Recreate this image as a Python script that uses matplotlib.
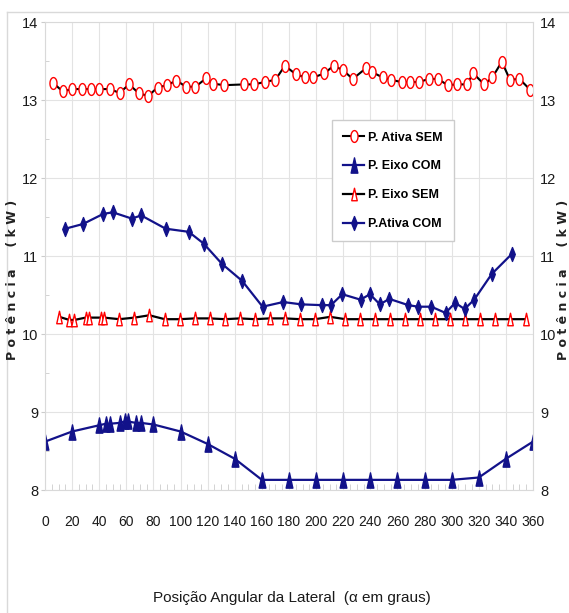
import numpy as np
import matplotlib
matplotlib.use("Agg")
import matplotlib.pyplot as plt
from matplotlib.path import Path
from matplotlib.lines import Line2D

# P. Ativa SEM (red hollow circles, black line)
ativa_sem_x = [6, 13, 20, 27, 34, 40, 48, 55, 62, 69, 76, 83, 90, 97, 104, 111,
               119, 124, 132, 147, 154, 162, 170, 177, 185, 192, 198, 206, 213,
               220, 227, 237, 241, 249, 255, 263, 269, 276, 283, 290, 297, 304,
               311, 316, 324, 330, 337, 343, 350, 358]
ativa_sem_y = [13.22, 13.11, 13.14, 13.14, 13.14, 13.14, 13.14, 13.09, 13.20, 13.09,
               13.05, 13.16, 13.19, 13.25, 13.17, 13.17, 13.28, 13.21, 13.19, 13.20,
               13.20, 13.23, 13.26, 13.44, 13.33, 13.29, 13.29, 13.34, 13.44, 13.38,
               13.27, 13.41, 13.36, 13.29, 13.26, 13.23, 13.23, 13.23, 13.27, 13.27,
               13.19, 13.20, 13.20, 13.34, 13.20, 13.29, 13.49, 13.26, 13.27, 13.13]

# P. Eixo COM (blue triangles)
eixo_com_x = [0, 20, 40, 45, 48, 55, 59, 61, 67, 71, 80, 100, 120, 140, 160, 180,
              200, 220, 240, 260, 280, 300, 320, 340, 360]
eixo_com_y = [8.62, 8.75, 8.83, 8.85, 8.85, 8.86, 8.88, 8.88, 8.86, 8.86, 8.84, 8.75,
              8.59, 8.40, 8.13, 8.13, 8.13, 8.13, 8.13, 8.13, 8.13, 8.13, 8.16, 8.40,
              8.62]

# P. Eixo SEM (red hollow triangles, black line)
eixo_sem_x = [10.5, 18, 21.6, 30, 32.7, 41, 43.6, 54.8, 66, 77, 88.3, 99.6, 110.4,
              121.7, 133, 143.8, 154.9, 165.7, 177, 188, 199.3, 210.4, 221.5, 232.6,
              243.6, 254.4, 265.5, 276.5, 287.6, 298.6, 309.7, 320.8, 331.9, 342.9,
              354.6]
eixo_sem_y = [10.22, 10.18, 10.18, 10.21, 10.21, 10.21, 10.21, 10.19, 10.21, 10.24,
              10.19, 10.19, 10.20, 10.20, 10.19, 10.20, 10.19, 10.20, 10.20, 10.19,
              10.19, 10.22, 10.19, 10.19, 10.19, 10.19, 10.19, 10.19, 10.19, 10.19,
              10.19, 10.19, 10.19, 10.19, 10.19]

# P.Ativa COM (blue diamonds)
ativa_com_x = [15, 28, 43, 50, 64, 71, 89, 106, 117, 130.5, 145.5, 160.5, 175.7,
               189, 204, 211, 219.3, 232.8, 239.7, 247, 254, 268, 275.3, 285, 295.5,
               302.6, 309.5, 316.6, 329.6, 344.6]
ativa_com_y = [11.35, 11.41, 11.54, 11.56, 11.48, 11.52, 11.35, 11.31, 11.16, 10.90,
               10.68, 10.35, 10.41, 10.38, 10.37, 10.37, 10.51, 10.44, 10.51, 10.38,
               10.45, 10.37, 10.35, 10.35, 10.27, 10.40, 10.32, 10.44, 10.77, 11.03]

x_ticks = list(range(0, 361, 20))
y_ticks = [8, 9, 10, 11, 12, 13, 14]

narrow = ["Liberation Sans", "DejaVu Sans"]

t = np.linspace(0, 2 * np.pi, 40)
ellipse = Path(np.column_stack([0.3 * np.cos(t), 0.5 * np.sin(t)]), closed=True)
tri = Path([(-0.22, -0.5), (0.22, -0.5), (0, 0.5), (-0.22, -0.5)], closed=True)
diamond = Path([(0, 0.5), (0.2, 0), (0, -0.5), (-0.2, 0), (0, 0.5)], closed=True)

navy = "#12128a"

fig = plt.figure(figsize=(5.69, 6.13), dpi=100)
ax = fig.add_axes([45 / 569, 1 - 490 / 613, 488 / 569, 468 / 613])

l1, = ax.plot(ativa_sem_x, ativa_sem_y, color="black", lw=1.5, marker=ellipse,
              ms=8.5, mfc="white", mec="red", mew=1.0, label="P. Ativa SEM")
l2, = ax.plot(eixo_com_x, eixo_com_y, color=navy, lw=1.6, marker=tri,
              ms=11, mfc=navy, mec=navy, label="P. Eixo COM")
l3, = ax.plot(eixo_sem_x, eixo_sem_y, color="black", lw=1.6, marker=tri,
              ms=9, mfc="white", mec="red", mew=1.0, label="P. Eixo SEM")
l4, = ax.plot(ativa_com_x, ativa_com_y, color=navy, lw=1.6, marker=diamond,
              ms=10, mfc=navy, mec=navy, label="P.Ativa COM")

ax.set_xlim(0, 360)
ax.set_ylim(8, 14)
ax.set_xticks(x_ticks)
ax.set_yticks(y_ticks)
ax.set_xticks(range(0, 361, 5), minor=True)
ax.set_yticks(np.arange(8, 14.01, 0.5), minor=True)
ax.grid(True, which="major", color="#e3e3e3", lw=0.8)
ax.set_axisbelow(True)
for s in ax.spines.values():
    s.set_color("#d9d9d9")

ax.tick_params(axis="y", which="major", labelleft=True, labelright=True,
               left=True, right=False, length=3, color="#cccccc", pad=2,
               labelsize=10.5)
ax.tick_params(axis="y", which="minor", direction="in", length=3, color="#cccccc",
               right=False)
ax.tick_params(axis="x", which="major", length=0, pad=18, labelsize=10)
ax.tick_params(axis="x", which="minor", direction="in", length=4, color="#cccccc")
for lab in ax.get_xticklabels() + ax.get_yticklabels():
    lab.set_family(narrow)
    lab.set_color("#1a1a1a")

ax.legend(handles=[l1, l2, l3, l4], loc="upper left",
          bbox_to_anchor=(0.588, 0.79), borderaxespad=0, fancybox=False,
          edgecolor="#cccccc", framealpha=1, numpoints=1, handlelength=1.7,
          handletextpad=0.3, labelspacing=1.35, borderpad=0.9,
          prop={"family": narrow, "size": 9, "weight": "bold"})

ylab = "P o t ê n c i a     ( k W )"
fig.text(13 / 569, 1 - 280 / 613, ylab, rotation=90, ha="center", va="center",
         fontsize=9, fontweight="bold", color="#222222")
fig.text(564 / 569, 1 - 280 / 613, ylab, rotation=90, ha="center", va="center",
         fontsize=9, fontweight="bold", color="#222222")
fig.text(292 / 569, 1 - 598 / 613, "Posição Angular da Lateral  (α em graus)",
         ha="center", va="center", fontsize=11, family=narrow, color="#1a1a1a")

# outer chart frame
fig.add_artist(Line2D([7 / 569, 7 / 569], [0, 1 - 12 / 613],
                      transform=fig.transFigure, color="#d9d9d9", lw=1))
fig.add_artist(Line2D([7 / 569, 1], [1 - 12 / 613, 1 - 12 / 613],
                      transform=fig.transFigure, color="#d9d9d9", lw=1))

fig.savefig("out.png", dpi=100)
